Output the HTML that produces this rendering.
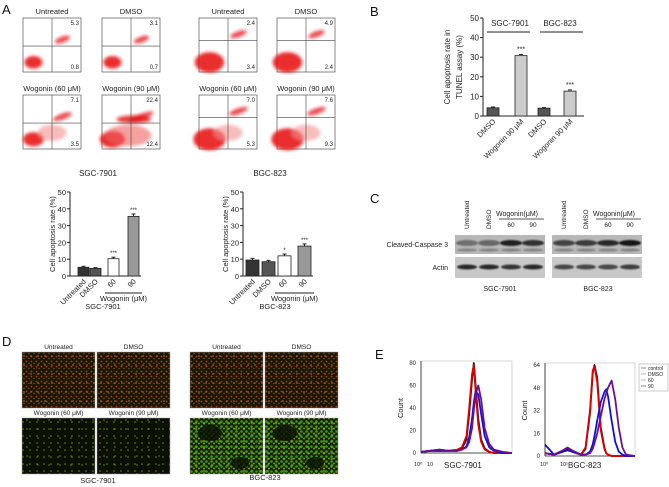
<!DOCTYPE html>
<html><head><meta charset="utf-8"><style>
html,body{margin:0;padding:0;background:#fff}
svg{display:block;font-family:"Liberation Sans",sans-serif}
</style></head><body>
<svg id="fig" width="669" height="487" viewBox="0 0 669 487">
<defs>
<filter id="blur1"><feGaussianBlur stdDeviation="1.6"/></filter>
<filter id="blur2"><feGaussianBlur stdDeviation="0.8"/></filter>
<pattern id="dotsR" width="5" height="5" patternUnits="userSpaceOnUse"><rect width="5" height="5" fill="#1e1406"/><circle cx="1.5" cy="1.5" r="0.9" fill="#9a4a10"/><circle cx="4" cy="3.5" r="0.7" fill="#6a6a10"/></pattern>
<pattern id="dotsR2" width="7" height="9" patternUnits="userSpaceOnUse"><circle cx="3" cy="5" r="1" fill="#b06018" opacity="0.7"/></pattern>
<pattern id="dotsG" width="5" height="5" patternUnits="userSpaceOnUse"><rect width="5" height="5" fill="#142006"/><circle cx="1.5" cy="1.5" r="1.3" fill="#3e9a14"/><circle cx="4" cy="3.5" r="1" fill="#7a9a18"/></pattern>
<pattern id="dotsG2" width="8" height="6" patternUnits="userSpaceOnUse"><circle cx="4" cy="3" r="1.4" fill="#60c020" opacity="0.6"/></pattern>
<pattern id="dotsS" width="7" height="7" patternUnits="userSpaceOnUse"><rect width="7" height="7" fill="#0a1004"/><circle cx="2" cy="2" r="0.8" fill="#6a8a14"/></pattern>
<pattern id="dotsS2" width="11" height="9" patternUnits="userSpaceOnUse"><circle cx="5" cy="6" r="0.9" fill="#8aa018" opacity="0.6"/></pattern>
</defs>
<g id="root"></g>
</svg>
<script>
// ---- data arrays ----
const flowLabels = ["Untreated","DMSO","Wogonin (60 μM)","Wogonin (90 μM)"];
const flowSGCtop = ["5.3","3.1","7.1","22.4"];
const flowSGCbot = ["0.8","0.7","3.5","12.4"];
const flowBGCtop = ["2.4","4.9","7.0","7.6"];
const flowBGCbot = ["3.4","2.4","5.3","9.3"];
const barACats = ["Untreated","DMSO","60","90"];
const barASGC = [5.2, 4.5, 10.3, 35.5];
const barASGCerr = [0.6, 0.5, 0.9, 1.4];
const barABGC = [9.5, 8.5, 12.0, 17.8];
const barABGCerr = [1.0, 0.8, 1.1, 1.3];
const barASig = ["","","***","***"];
const barABGCSig = ["","","*","***"];
const barATicks = [0,10,20,30,40,50];
const barBCats = ["DMSO","Wogonin 90 μM","DMSO","Wogonin 90 μM"];
const barBVals = [4.2, 30.8, 4.0, 12.7];
const barBErr = [0.4, 0.6, 0.3, 0.6];
const barBSig = ["","***","","***"];
const blotCasp = [0.45, 0.5, 0.9, 0.8, 0.7, 0.75, 0.85, 0.95];
const blotActin = [0.85, 0.85, 0.8, 0.85, 0.7, 0.7, 0.7, 0.75];
const histXL = [0,0.1,0.2,0.3,0.4,0.45,0.5,0.53,0.56,0.58,0.6,0.63,0.66,0.7,0.75,0.8,0.9,1];
const histLctrl = [1,2,2,2,2,4,12,35,65,80,60,30,12,4,1,0,0,0];
const histLdmso = [1,2,3,2,3,5,15,40,70,78,55,25,10,3,1,0,0,0];
const histL60 = [1,2,2,2,2,3,6,14,30,45,55,52,35,15,5,2,0,0];
const histL90 = [1,2,3,2,2,3,5,10,22,38,52,60,48,22,8,3,1,0];
const histXR = [0,0.1,0.2,0.25,0.3,0.4,0.45,0.5,0.53,0.55,0.58,0.62,0.66,0.68,0.7,0.74,0.78,0.82,0.86,0.9,1];
const histRctrl = [2,1,3,4,3,1,5,30,58,64,55,20,6,2,1,0,0,0,0,0,0];
const histRdmso = [2,1,3,5,3,1,6,32,60,63,52,18,5,2,1,0,0,0,0,0,0];
const histR60 = [8,1,3,5,3,1,1,3,8,14,25,38,45,47,42,25,10,3,1,0,0];
const histR90 = [2,1,4,6,4,1,1,2,5,9,16,28,40,44,48,53,40,20,6,1,0];
const histLticks = [0,20,40,60,80];
const histRticks = [0,16,32,48,64];
const legendLabels = ["control","DMSO","60","90"];

const NS="http://www.w3.org/2000/svg";
const root=document.getElementById('root');
function el(tag,attrs,parent,txt){const e=document.createElementNS(NS,tag);for(const k in attrs)e.setAttribute(k,attrs[k]);if(txt!==undefined)e.textContent=txt;(parent||root).appendChild(e);return e;}
function txt(x,y,s,size,extra,parent){const a=Object.assign({x:x,y:y,'font-size':size,fill:'#222'},extra||{});return el('text',a,parent,s);}

[["A",2,14],["B",370,16],["C",370,203],["D",2,346],["E",375,359]].forEach(p=>{
  const t=txt(p[1],p[2],p[0],13,{fill:'#111'});
  
  
});

function flowPlot(x,y,w,h,title,top,bot,dense,bgc){
  const g=el('g',{});
  
  
  txt(x+w/2,y-4,title,7.5,{'text-anchor':'middle'},g);
  el('rect',{x:x,y:y,width:w,height:h,fill:'#fff',stroke:'#555','stroke-width':0.7},g);
  const qx=x+w*0.5, qy=y+h*(bgc?0.42:0.52);
  const bl=el('g',{filter:'url(#blur1)'},g);
  const lr=bgc?14:9;
  el('ellipse',{cx:x+w*0.18,cy:y+h*0.82,rx:lr*(1+dense*0.5),ry:lr*0.7*(1+dense*0.4),fill:'#e8141a',opacity:0.9},bl);
  el('ellipse',{cx:x+w*0.68,cy:y+h*(bgc?0.3:0.4),rx:8+dense*6,ry:3,fill:'#e8141a',opacity:0.75,transform:`rotate(-20 ${x+w*0.68} ${y+h*(bgc?0.3:0.4)})`},bl);
  if(dense>0.5){el('ellipse',{cx:x+w*0.45,cy:y+h*0.75,rx:w*0.4,ry:h*0.2,fill:'#f06060',opacity:0.6},bl);
    el('ellipse',{cx:x+w*0.55,cy:y+h*0.45,rx:w*0.3,ry:4,fill:'#e01010',opacity:0.8},bl);}
  else if(dense>0.2){el('ellipse',{cx:x+w*0.5,cy:y+h*0.7,rx:w*0.25,ry:h*0.15,fill:'#f49090',opacity:0.6},bl);}
  el('line',{x1:qx,y1:y,x2:qx,y2:y+h,stroke:'#444','stroke-width':0.6},g);
  el('line',{x1:x,y1:qy,x2:x+w,y2:qy,stroke:'#444','stroke-width':0.6},g);
  txt(x+w-2,y+7,top,6,{'text-anchor':'end'},g);
  txt(x+w-2,y+h-3,bot,6,{'text-anchor':'end'},g);
}
const fx=[23,102,199,277], fy=[18,95], fw=58, fh=54;
const dens=[0,0,0.3,0.8];
for(let i=0;i<4;i++){
  const c=i%2,r=Math.floor(i/2);
  flowPlot(fx[c],fy[r],fw,fh,flowLabels[i],flowSGCtop[i],flowSGCbot[i],dens[i],false);
  flowPlot(fx[2+c],fy[r],fw,fh,flowLabels[i],flowBGCtop[i],flowBGCbot[i],i>=2?0.3:0.1,true);
}
txt(98,176,"SGC-7901",8,{'text-anchor':'middle'});
txt(270,176,"BGC-823",8,{'text-anchor':'middle'});

function barChartA(ax,vals,errs,sig,bx,bw,label,titleX){
  const g=el('g',{});
  
  
  const y0=276,y50=192;
  const Y=v=>y0-v*(y0-y50)/50;
  el('line',{x1:ax,y1:y50,x2:ax,y2:y0,stroke:'#222','stroke-width':1},g);
  el('line',{x1:ax,y1:y0,x2:bx[3]+bw+2,y2:y0,stroke:'#222','stroke-width':1},g);
  barATicks.forEach(t=>{el('line',{x1:ax-3,y1:Y(t),x2:ax,y2:Y(t),stroke:'#222'},g);txt(ax-4,Y(t)+3,String(t),7.5,{'text-anchor':'end'},g);});
  const fills=['#333','#555','#fff','#999'];
  vals.forEach((v,i)=>{
    const r=el('rect',{x:bx[i],y:Y(v),width:bw,height:y0-Y(v),fill:fills[i],stroke:'#222','stroke-width':0.8},g);
    
    
    const cx=bx[i]+bw/2;
    el('line',{x1:cx,y1:Y(v+errs[i]),x2:cx,y2:Y(v),stroke:'#222'},g);
    el('line',{x1:cx-2,y1:Y(v+errs[i]),x2:cx+2,y2:Y(v+errs[i]),stroke:'#222'},g);
    if(sig[i])txt(cx,Y(v+errs[i])-2,sig[i],6,{'text-anchor':'middle'},g);
    txt(cx+3,y0+6,barACats[i],7.5,{'text-anchor':'end',transform:`rotate(-45 ${cx+3} ${y0+6})`},g);
  });
  el('line',{x1:bx[2]-3,y1:y0+17,x2:bx[3]+bw+3,y2:y0+17,stroke:'#222'},g);
  txt((bx[2]+bx[3]+bw)/2,y0+25,"Wogonin (μM)",7.5,{'text-anchor':'middle'},g);
  txt(titleX,y0+33,label,7.5,{'text-anchor':'middle'},g);
  txt(ax-15,(y0+y50)/2,"Cell apoptosis rate (%)",7.5,{'text-anchor':'middle',transform:`rotate(-90 ${ax-15} ${(y0+y50)/2})`},g);
}
barChartA(70,barASGC,barASGCerr,barASig,[78,90,108,128],11,"SGC-7901",103);
barChartA(243,barABGC,barABGCerr,barABGCSig,[246,262,278,298],13,"BGC-823",275);

(function(){
  const g=el('g',{});
  
  
  const ax=483,y0=116,y50=18;
  const Y=v=>y0-v*(y0-y50)/50;
  const bx=[487,515,538,564],bw=12;
  el('line',{x1:ax,y1:y50,x2:ax,y2:y0,stroke:'#222','stroke-width':1},g);
  el('line',{x1:ax,y1:y0,x2:584,y2:y0,stroke:'#222','stroke-width':1},g);
  barATicks.forEach(t=>{el('line',{x1:ax-3,y1:Y(t),x2:ax,y2:Y(t),stroke:'#222'},g);txt(ax-4,Y(t)+3,String(t),8,{'text-anchor':'end'},g);});
  const fills=['#555','#ccc','#555','#ccc'];
  barBVals.forEach((v,i)=>{
    const r=el('rect',{x:bx[i],y:Y(v),width:bw,height:y0-Y(v),fill:fills[i],stroke:'#222','stroke-width':0.8},g);
    
    
    const cx=bx[i]+bw/2;
    el('line',{x1:cx-2,y1:Y(v+barBErr[i]),x2:cx+2,y2:Y(v+barBErr[i]),stroke:'#222'},g);
    if(barBSig[i])txt(cx,Y(v+barBErr[i])-3,barBSig[i],7,{'text-anchor':'middle'},g);
    txt(cx+3,y0+6,barBCats[i],7.5,{'text-anchor':'end',transform:`rotate(-45 ${cx+3} ${y0+6})`},g);
  });
  txt(510,26,"SGC-7901",8,{'text-anchor':'middle'},g);
  txt(560,26,"BGC-823",8,{'text-anchor':'middle'},g);
  el('line',{x1:487,y1:32,x2:530,y2:32,stroke:'#222'},g);
  el('line',{x1:540,y1:32,x2:583,y2:32,stroke:'#222'},g);
  txt(450,67,"Cell apoptosis rate in",8,{'text-anchor':'middle',transform:'rotate(-90 450 67)'},g);
  txt(462,67,"TUNEL assay (%)",8,{'text-anchor':'middle',transform:'rotate(-90 462 67)'},g);
})();

(function(){
  const g=el('g',{});
  
  
  const blocks=[455,552],bw=90;
  blocks.forEach((bx,b)=>{
    el('rect',{x:bx,y:235,width:bw,height:19,fill:'#b8b8b8'},g);
    el('rect',{x:bx,y:257,width:bw,height:21,fill:'#c8c8c8'},g);
    const bl=el('g',{filter:'url(#blur2)'},g);
    for(let l=0;l<4;l++){
      const cx=bx+12+l*22;
      el('ellipse',{cx:cx,cy:243,rx:11,ry:3,fill:'#111',opacity:blotCasp[b*4+l]},bl);
      el('ellipse',{cx:cx,cy:250,rx:10,ry:1.5,fill:'#333',opacity:0.4},bl);
      el('ellipse',{cx:cx,cy:267,rx:10,ry:2.5,fill:'#111',opacity:blotActin[b*4+l]},bl);
    }
    ["Untreated","DMSO"].forEach((s,l)=>{const x=bx+12+l*22;txt(x+2,229,s,6.5,{'text-anchor':'start',transform:`rotate(-90 ${x+2} 229)`},g);});
    txt(bx+62,216,"Wogonin(μM)",7,{'text-anchor':'middle'},g);
    el('line',{x1:bx+44,y1:219,x2:bx+89,y2:219,stroke:'#222','stroke-width':0.7},g);
    txt(bx+56,227,"60",6.5,{'text-anchor':'middle'},g);
    txt(bx+78,227,"90",6.5,{'text-anchor':'middle'},g);
  });
  txt(448,247,"Cleaved-Caspase 3",7,{'text-anchor':'end'},g);
  txt(448,270,"Actin",7,{'text-anchor':'end'},g);
  txt(500,291,"SGC-7901",7,{'text-anchor':'middle'},g);
  txt(598,291,"BGC-823",7,{'text-anchor':'middle'},g);
})();

(function(){
  const g=el('g',{});
  
  
  const xs=[22,97,190,265],ys=[352,418],w=73,h=56;
  const fills=[['R','R','S','S'],['R','R','G','G']];
  for(let c=0;c<2;c++)for(let i=0;i<4;i++){
    const x=xs[c*2+i%2],y=ys[Math.floor(i/2)];
    const f=fills[c][i];
    el('rect',{x:x,y:y,width:w,height:h,fill:'url(#dots'+f+')'},g);
    el('rect',{x:x,y:y,width:w,height:h,fill:'url(#dots'+f+'2)'},g);
    el('rect',{x:x,y:y,width:w,height:h,fill:'none',stroke:'#999','stroke-width':0.5},g);
    if(c===1&&i>=2){el('ellipse',{cx:x+20,cy:y+15,rx:12,ry:8,fill:'#0a1005',opacity:0.85},g);el('ellipse',{cx:x+50,cy:y+45,rx:9,ry:6,fill:'#0a1005',opacity:0.8},g);}
    txt(x+w/2,y-3,flowLabels[i],6.5,{'text-anchor':'middle'},g);
  }
  txt(98,483,"SGC-7901",7.5,{'text-anchor':'middle'},g);
  txt(265,480,"BGC-823",7.5,{'text-anchor':'middle'},g);
})();

function hist(ax,right,y0,ytop,ymax,ticks,xs,series,label,lab10){
  const g=el('g',{});
  
  
  const X=f=>ax+f*(right-ax), Y=v=>y0-v*(y0-ytop)/ymax;
  el('rect',{x:ax,y:ytop-2,width:right-ax,height:y0-ytop+2,fill:'none',stroke:'#bbb','stroke-width':0.6},g);
  el('line',{x1:ax,y1:ytop-2,x2:ax,y2:y0,stroke:'#222','stroke-width':0.8},g);
  el('line',{x1:ax,y1:y0,x2:right,y2:y0,stroke:'#222','stroke-width':0.8},g);
  ticks.forEach(t=>txt(ax-5,Y(t)+2,String(t),6,{'text-anchor':'end'},g));
  const cols=['#111','#e00000','#1010e0','#6a1090'];
  series.forEach((s,k)=>{
    const p=el('polyline',{points:s.map((v,i)=>X(xs[i]).toFixed(1)+','+Y(v).toFixed(1)).join(' '),fill:'none',stroke:cols[k],'stroke-width':1.8,'stroke-linejoin':'round'},g);
    
    
  });
  txt(ax-18,(y0+ytop)/2,"Count",7.5,{'text-anchor':'middle',transform:`rotate(-90 ${ax-18} ${(y0+ytop)/2})`},g);
  lab10.forEach(l=>txt(l[0],466,l[1],5.5,{},g));
  txt(ax+(lab10.length>1?23:8),468,label,8,{},g);
}
hist(421,512,453,363,80,histLticks,histXL,[histLctrl,histLdmso,histL60,histL90],"SGC-7901",[[414,"10⁰"],[427,"10"]]);
hist(545,635,456,365,64,histRticks,histXR,[histRctrl,histRdmso,histR60,histR90],"BGC-823",[[540,"10⁰"],[560,"10¹"]]);
(function(){
  const g=el('g',{});
  
  
  el('rect',{x:639,y:364,width:29,height:27,fill:'#fff',stroke:'#aaa','stroke-width':0.6},g);
  const cols=['#888','#bbb','#bbb','#888'];
  legendLabels.forEach((s,i)=>{
    el('line',{x1:641,y1:368+i*6,x2:646,y2:368+i*6,stroke:cols[i]},g);
    txt(648,370+i*6,s,5,{},g);
  });
})();
</script>
</body></html>
